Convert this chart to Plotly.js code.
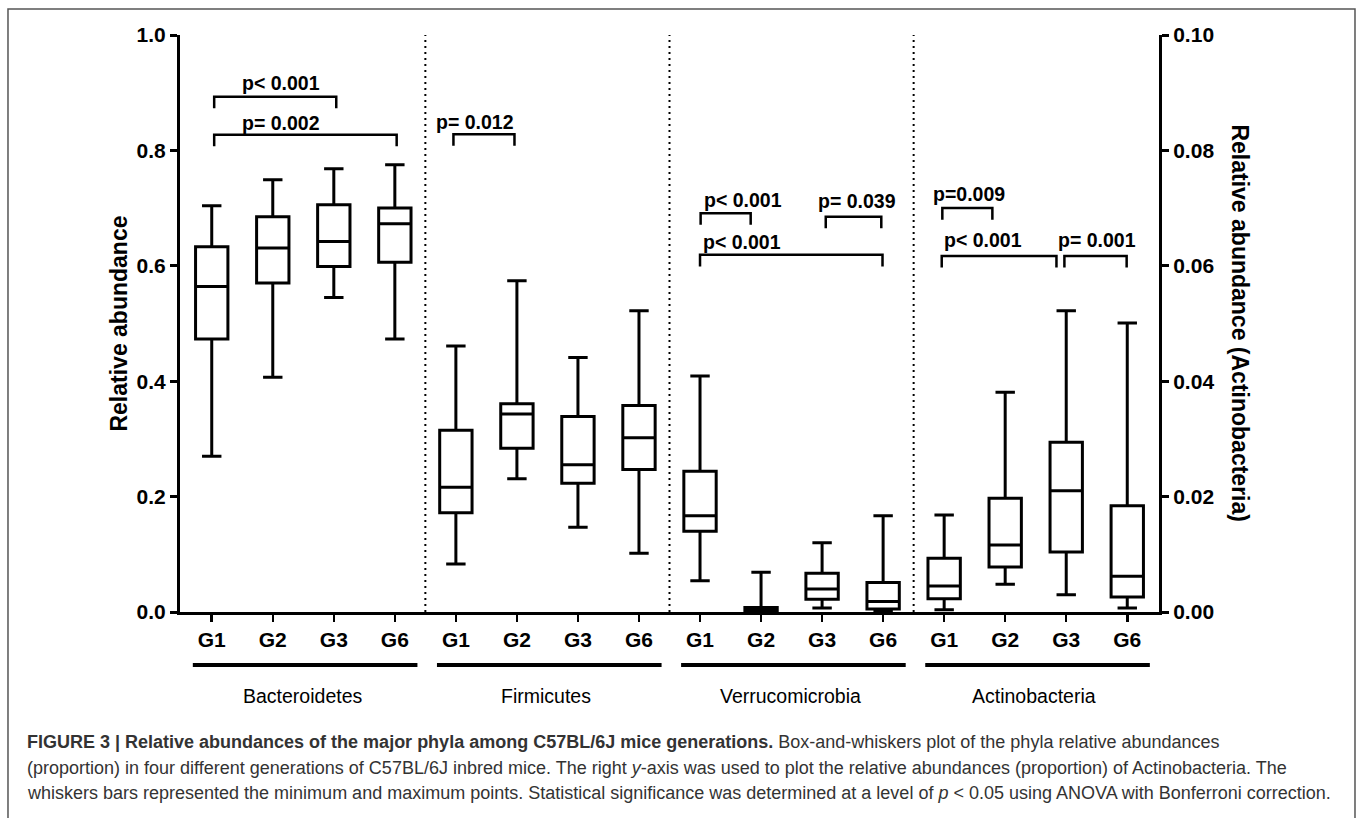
<!DOCTYPE html>
<html>
<head>
<meta charset="utf-8">
<script src="https://cdn.plot.ly/plotly-3.0.1.min.js"></script>
<style>
  html, body { margin: 0; padding: 0; background: #fff; }
  #chart { width: 1358px; height: 818px; }
</style>
</head>
<body>
<div id="chart"></div>
<script>
// ---- Data ----
var generations = ['G1', 'G2', 'G3', 'G6'];
var phyla = ['Bacteroidetes', 'Firmicutes', 'Verrucomicrobia', 'Actinobacteria'];

var bactMin = [0.270, 0.407, 0.545, 0.473];
var bactQ1  = [0.473, 0.570, 0.599, 0.606];
var bactMed = [0.564, 0.631, 0.642, 0.673];
var bactQ3  = [0.633, 0.685, 0.706, 0.700];
var bactMax = [0.704, 0.749, 0.768, 0.775];

var firmMin = [0.083, 0.231, 0.147, 0.102];
var firmQ1  = [0.172, 0.284, 0.223, 0.247];
var firmMed = [0.216, 0.343, 0.255, 0.302];
var firmQ3  = [0.315, 0.361, 0.339, 0.358];
var firmMax = [0.461, 0.574, 0.441, 0.522];

var verrMin = [0.054, 0.000, 0.007, 0.001];
var verrQ1  = [0.140, 0.001, 0.022, 0.005];
var verrMed = [0.167, 0.004, 0.040, 0.018];
var verrQ3  = [0.244, 0.008, 0.067, 0.051];
var verrMax = [0.409, 0.069, 0.120, 0.167];

// Actinobacteria: plotted on the right axis (0 - 0.10)
var actMin = [0.0004, 0.0048, 0.0030, 0.0007];
var actQ1  = [0.0023, 0.0078, 0.0104, 0.0026];
var actMed = [0.0045, 0.0116, 0.0210, 0.0062];
var actQ3  = [0.0093, 0.0197, 0.0294, 0.0184];
var actMax = [0.0168, 0.0381, 0.0522, 0.0501];

// Significance brackets: [from, to] category slot, height on the left axis
var sigLabels = ['p< 0.001', 'p= 0.002', 'p= 0.012', 'p< 0.001', 'p= 0.039', 'p< 0.001', 'p=0.009', 'p< 0.001', 'p= 0.001'];
var sigFrom   = [0.04, 0.04, 3.96, 8.01, 10.06, 8.00, 11.97, 11.96, 13.97];
var sigTo     = [2.04, 3.03, 4.96, 8.83, 10.97, 10.99, 12.79, 13.84, 14.99];
var sigTop    = [0.893, 0.827, 0.828, 0.691, 0.685, 0.619, 0.700, 0.617, 0.617];
var sigLabX   = [1.14, 1.14, 4.31, 8.70, 10.57, 8.69, 12.40, 12.63, 14.50];
var sigLabY   = [0.916, 0.847, 0.850, 0.714, 0.713, 0.642, 0.725, 0.645, 0.645];

var captionLines = [
  '<b>FIGURE 3 | Relative abundances of the major phyla among C57BL/6J mice generations.</b> Box-and-whiskers plot of the phyla relative abundances',
  '(proportion) in four different generations of C57BL/6J inbred mice. The right <i>y</i>-axis was used to plot the relative abundances (proportion) of Actinobacteria. The',
  'whiskers bars represented the minimum and maximum points. Statistical significance was determined at a level of <i>p</i> &lt; 0.05 using ANOVA with Bonferroni correction.'
];

// ---- Build traces ----
var stats = [
  [bactMin, bactQ1, bactMed, bactQ3, bactMax, 'y'],
  [firmMin, firmQ1, firmMed, firmQ3, firmMax, 'y'],
  [verrMin, verrQ1, verrMed, verrQ3, verrMax, 'y'],
  [actMin, actQ1, actMed, actQ3, actMax, 'y2']
];

var traces = stats.map(function (s, g) {
  return {
    type: 'box',
    name: phyla[g],
    x: generations.map(function (_, j) { return g * 4 + j; }),
    lowerfence: s[0], q1: s[1], median: s[2], q3: s[3], upperfence: s[4],
    yaxis: s[5],
    boxpoints: false,
    width: 0.53,
    whiskerwidth: 0.6,
    fillcolor: 'rgba(255,255,255,0)',
    line: { color: '#000', width: 3 },
    hoverinfo: 'skip',
    showlegend: false
  };
});

var tickVals = [], tickText = [];
phyla.forEach(function (_, g) {
  generations.forEach(function (lab, j) { tickVals.push(g * 4 + j); tickText.push(lab); });
});

var FAM = 'Liberation Sans, Arial, sans-serif';
var tickFont = { family: FAM, size: 21, color: '#000', weight: 'bold' };
var titleFont = { family: FAM, size: 23, color: '#000', weight: 'bold' };

var shapes = [];
var annotations = [];

// dotted separators
[3.5, 7.5, 11.5].forEach(function (xv) {
  shapes.push({ type: 'line', xref: 'x', yref: 'paper', x0: xv, x1: xv, y0: 0, y1: 1,
    line: { color: '#000', width: 2, dash: '2px,4px' } });
});

// group underline + label
phyla.forEach(function (name, g) {
  var x0 = g * 4 - 0.31, x1 = g * 4 + 3.37;
  shapes.push({ type: 'line', xref: 'x', yref: 'paper', x0: x0, x1: x1, y0: -0.092, y1: -0.092,
    line: { color: '#000', width: 4 } });
  annotations.push({ xref: 'x', yref: 'paper', x: (x0 + x1) / 2 - 0.05, y: -0.146, text: name, showarrow: false,
    xanchor: 'center', yanchor: 'middle',
    font: { family: FAM, size: 19.5, color: '#000' } });
});

// significance brackets
sigLabels.forEach(function (lab, i) {
  var yt = sigTop[i], yb = sigTop[i] - 0.02;
  shapes.push({ type: 'path', xref: 'x', yref: 'y',
    path: 'M' + sigFrom[i] + ',' + yb + ' L' + sigFrom[i] + ',' + yt + ' L' + sigTo[i] + ',' + yt + ' L' + sigTo[i] + ',' + yb,
    line: { color: '#000', width: 2.5 } });
  annotations.push({ xref: 'x', yref: 'y', x: sigLabX[i], y: sigLabY[i], text: lab.replace('<', '&lt;'),
    showarrow: false, xanchor: 'center', yanchor: 'middle',
    font: { family: FAM, size: 19.5, color: '#000', weight: 'bold' } });
});

// axis titles
annotations.push({ xref: 'paper', yref: 'paper', x: -0.0633, y: 0.5, text: 'Relative abundance', textangle: -90,
  showarrow: false, xanchor: 'center', yanchor: 'middle', font: titleFont });
annotations.push({ xref: 'paper', yref: 'paper', x: 1.0828, y: 0.5, text: 'Relative abundance (Actinobacteria)', textangle: 90,
  showarrow: false, xanchor: 'center', yanchor: 'middle', font: titleFont });

// caption
var capY = [-0.226, -0.270, -0.313];
captionLines.forEach(function (t, i) {
  annotations.push({ xref: 'paper', yref: 'paper', x: -0.1583, y: capY[i], text: t, showarrow: false,
    xanchor: 'left', yanchor: 'middle', align: 'left',
    font: { family: FAM, size: 18, color: '#333' } });
});

// outer frame
shapes.push({ type: 'rect', xref: 'paper', yref: 'paper', x0: -0.1757, x1: 1.2002, y0: 1.0451, y1: -0.38,
  line: { color: '#555', width: 1.5 }, fillcolor: 'rgba(0,0,0,0)' });

var layout = {
  width: 1358, height: 818,
  margin: { l: 180, r: 199, t: 35, b: 206, pad: 0 },
  paper_bgcolor: '#fff', plot_bgcolor: '#fff',
  boxmode: 'overlay',
  showlegend: false,
  xaxis: {
    range: [-0.52, 15.52], tickmode: 'array', tickvals: tickVals, ticktext: tickText,
    showgrid: false, zeroline: false, showline: true, linecolor: '#000', linewidth: 3,
    ticks: 'outside', ticklen: 7, tickwidth: 2.5, tickcolor: '#000', tickfont: tickFont, fixedrange: true
  },
  yaxis: {
    range: [0, 1], tickvals: [0, 0.2, 0.4, 0.6, 0.8, 1.0], ticktext: ['0.0', '0.2', '0.4', '0.6', '0.8', '1.0'],
    showgrid: false, zeroline: false, showline: true, linecolor: '#000', linewidth: 3,
    ticks: 'outside', ticklen: 7, tickwidth: 3, tickcolor: '#000', tickfont: tickFont, fixedrange: true
  },
  yaxis2: {
    range: [0, 0.1], overlaying: 'y', side: 'right', anchor: 'x',
    tickvals: [0, 0.02, 0.04, 0.06, 0.08, 0.10], ticktext: ['0.00', '0.02', '0.04', '0.06', '0.08', '0.10'],
    showgrid: false, zeroline: false, showline: true, linecolor: '#000', linewidth: 3,
    ticks: 'outside', ticklen: 7, tickwidth: 3, tickcolor: '#000', tickfont: tickFont, fixedrange: true
  },
  shapes: shapes,
  annotations: annotations
};

Plotly.newPlot('chart', traces, layout, { displayModeBar: false, staticPlot: true });
</script>
</body>
</html>
